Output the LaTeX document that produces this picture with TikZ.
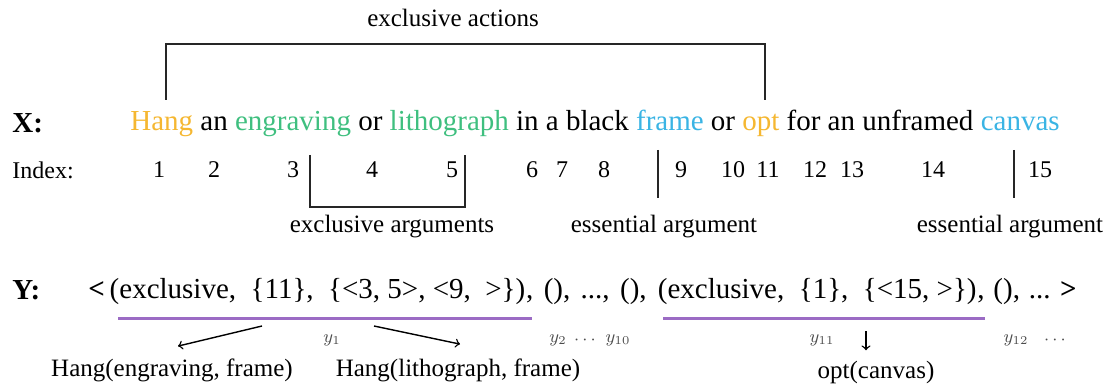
\documentclass[tikz,border=0pt]{standalone}
\usepackage{fontspec}
\setmainfont{Liberation Serif}
\usetikzlibrary{positioning, arrows}

\definecolor{actcol}{HTML}{F5B731}
\definecolor{argcol}{HTML}{3FBF7F}
\definecolor{esscol}{HTML}{3AB4E4}
\definecolor{linecol}{HTML}{9B6BC4}

\begin{document}
\begin{tikzpicture}[
    x=0.5pt, y=-0.5pt,
    row/.style={font=\fontsize{14.5}{17}\selectfont, inner sep=0pt},
    rowhead/.style={font=\fontsize{14.5}{17}\selectfont\bfseries, inner sep=0pt, anchor=west},
    idx/.style={font=\fontsize{12}{14}\selectfont, inner sep=0pt},
    note/.style={font=\fontsize{12.5}{15}\selectfont, inner sep=0pt},
    sub/.style={font=\fontsize{9}{10}\selectfont, text=black!70, inner sep=0pt},
    brk/.style={line width=0.9pt, black!85},
    uline/.style={line width=1.5pt, linecol},
    arrow/.style={line width=0.7pt, ->}
]
\useasboundingbox (0,0) rectangle (1109,390);

% X row
\node (xlab) [rowhead] at (12,123) {X:};
\node (sent) [row, anchor=west] at (130,123) {\textcolor{actcol}{Hang} an \textcolor{argcol}{engraving} or \textcolor{argcol}{lithograph} in a black \textcolor{esscol}{frame} or \textcolor{actcol}{opt} for an unframed \textcolor{esscol}{canvas}};

% exclusive actions
\node (actlab) [note] at (453,18) {exclusive actions};
\coordinate (ahang) at (166,100);
\coordinate (aopt) at (765,100);
\draw [brk] (ahang) -- ++(0,-56) -| (aopt);

% Index row
\node (idxlab) [idx, anchor=west] at (12,170) {Index:};
\foreach \n/\x in {1/159, 2/214, 3/293, 4/372, 5/452, 6/532, 7/562, 8/604, 9/681, 10/733, 11/768, 12/815, 13/852, 14/933, 15/1040}
    \node (i\n) [idx] at (\x,170) {\n};

% argument marks
\coordinate (exl) at (310,155);
\coordinate (exr) at (465,155);
\draw [brk] (exl) -- ++(0,52) -| (exr);
\coordinate (ess1) at (658,150);
\coordinate (ess2) at (1014,150);
\draw [brk] (ess1) -- ++(0,48);
\draw [brk] (ess2) -- ++(0,48);
\node (exlab) [note] at (392,227) {exclusive arguments};
\node (esslab1) [note] at (664,227) {essential argument};
\node (esslab2) [note] at (1010,227) {essential argument};

% Y row
\node (ylab) [rowhead] at (12,290) {Y:};
\node (lt) [rowhead] at (88,290) {<};
\node (grp1) [row, anchor=base west] at ([xshift=2pt]lt.base east) {(exclusive,\ \ \{11\},\ \ \{<3, 5>, <9,\ \ >\})};
\node (mid) [row, anchor=base west] at (grp1.base east) {,\hspace{5.2pt}(),\hspace{5.2pt}...,\hspace{5.2pt}(),\hspace*{5.2pt}};
\node (grp2) [row, anchor=base west] at (mid.base east) {(exclusive,\ \ \{1\},\ \ \{<15, >\})};
\node (tail) [row, anchor=base west] at (grp2.base east) {,\hspace{4.4pt}(),\hspace{4.4pt}...\hspace*{4.4pt}};
\node (gt) [row, font=\fontsize{14.5}{17}\selectfont\bfseries, anchor=base west] at (tail.base east) {>};

\draw [uline] (118,318) -- (532,318);
\draw [uline] (663,318) -- (985,318);

% element labels
\node (y1) [sub] at (332,340) {$y_1$};
\node (y2) [sub] at (558,340) {$y_2$};
\node (d1) [sub] at (585,340) {$\cdots$};
\node (y10) [sub] at (618,340) {$y_{10}$};
\node (y11) [sub] at (822,340) {$y_{11}$};
\node (y12) [sub] at (1016,340) {$y_{12}$};
\node (d2) [sub] at (1055,340) {$\cdots$};

% actions
\node (heng) [note] at (172,370) {Hang(engraving, frame)};
\node (hlit) [note] at (458,370) {Hang(lithograph, frame)};
\node (optc) [note] at (876,372) {opt(canvas)};
\coordinate (g1l) at (262,326);
\coordinate (g1r) at (374,326);
\coordinate (g2d) at (866,331);
\draw [arrow] (g1l) -- ([xshift=3pt,yshift=6pt]heng.north);
\draw [arrow] (g1r) -- ([xshift=1pt,yshift=7pt]hlit.north);
\draw [arrow] (g2d) -- ([yshift=5pt]g2d |- optc.north);

\end{tikzpicture}
\end{document}
